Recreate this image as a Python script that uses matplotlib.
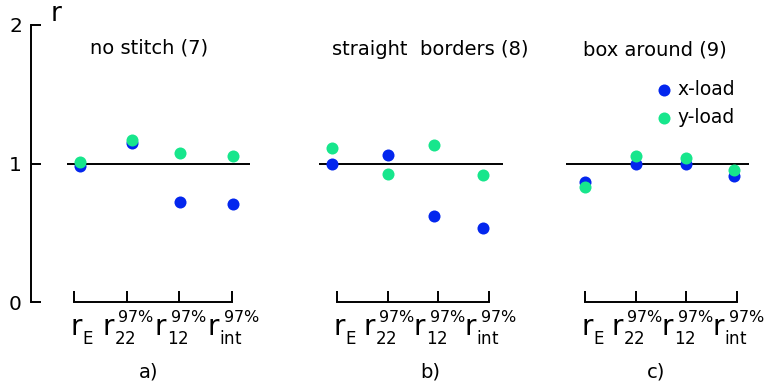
import matplotlib
matplotlib.use("Agg")
import matplotlib.pyplot as plt

# ---------------- data ----------------
panel_titles = ["no stitch (7)", "straight  borders (8)", "box around (9)"]
panel_letters = ["a)", "b)", "c)"]
categories = ["E", "22", "12", "int"]          # subscripts of r
superscripts = ["", "97%", "97%", "97%"]
series_names = ["x-load", "y-load"]

x_load = [
    [0.982, 1.146, 0.720, 0.705],   # a) no stitch
    [0.994, 1.064, 0.621, 0.536],   # b) straight borders
    [0.864, 0.996, 0.996, 0.912],   # c) box around
]
y_load = [
    [1.009, 1.170, 1.074, 1.052],
    [1.112, 0.924, 1.131, 0.919],
    [0.832, 1.052, 1.042, 0.953],
]
y_ticks = [0, 1, 2]
y_tick_labels = ["0", "1", "2"]
reference_value = 1.0

# ---------------- style / layout ----------------
BLUE = "#0326ee"
GREEN = "#17e68c"
W, H = 766, 387
plt.rcParams["font.family"] = ["DejaVu Sans"]
plt.rcParams["mathtext.fontset"] = "dejavusans"

fig = plt.figure(figsize=(W / 100, H / 100), dpi=100)

# pixel layout: (tick0_px, tick3_px, axes_left_px, axes_right_px, ref line from/to px, point shifts)
layout = [
    (74, 232, 31, 262, 67, 250, [0.11, 0.11, 0.02, 0.02]),
    (337, 489, 300, 520, 319, 503, [-0.10, 0.0, -0.08, -0.12]),
    (585, 737, 550, 766, 566, 749, [0.0, 0.0, 0.0, -0.06]),
]
Y0_PX, Y2_PX = 302, 25
LW = 1.4
TXT = 14

def px2fx(px):
    return px / W

def py2fy(py):
    return (H - py) / H

def mt(s):
    return r"$\mathregular{" + s.replace("%", r"\%") + "}$"

axes = []
for k, (t0, t3, l, r, h0, h1, shifts) in enumerate(layout):
    unit = (t3 - t0) / 3.0
    ax = fig.add_axes([px2fx(l), py2fy(Y0_PX), px2fx(r - l), py2fy(Y2_PX) - py2fy(Y0_PX)])
    ax.set_xlim((l - t0) / unit, (r - t0) / unit)
    ax.set_ylim(0, 2)
    ax.patch.set_visible(False)
    for s in ["top", "right"]:
        ax.spines[s].set_visible(False)
    ax.spines["bottom"].set_bounds(0, 3)
    ax.spines["bottom"].set_linewidth(LW)
    ax.set_xticks(range(len(categories)))
    ax.set_xticklabels([])
    ax.tick_params(axis="x", direction="in", length=8, width=LW)
    if k == 0:
        ax.spines["left"].set_bounds(0, 2)
        ax.spines["left"].set_linewidth(LW)
        ax.set_yticks(y_ticks)
        ax.set_yticklabels(y_tick_labels, fontsize=14.5)
        ax.tick_params(axis="y", direction="in", length=7, width=LW, pad=6.5)
        fig.text(px2fx(50), py2fy(21), mt("r"), fontsize=19, ha="left", va="baseline")
    else:
        ax.spines["left"].set_visible(False)
        ax.set_yticks([])

    # reference line
    ax.hlines(reference_value, (h0 - t0) / unit, (h1 - t0) / unit, color="black", lw=LW, zorder=1)

    xs = [i + shifts[i] for i in range(len(categories))]
    ax.scatter(xs, x_load[k], s=75, color=BLUE, zorder=3, linewidths=0, label=series_names[0])
    ax.scatter(xs, y_load[k], s=75, color=GREEN, zorder=4, linewidths=0, label=series_names[1])

    # category labels r_sub^sup
    for i, (sub, sup) in enumerate(zip(categories, superscripts)):
        if sup:
            r_off, sub_off, sup_off = -18.0, -9.2, -6.8
        else:
            r_off, sub_off, sup_off = -3.2, 6.0, 0
        ax.annotate(mt("r"), xy=(i, 0), xytext=(r_off, -23.8), textcoords="offset points",
                    fontsize=20, ha="left", va="baseline", annotation_clip=False)
        ax.annotate(mt(sub), xy=(i, 0), xytext=(sub_off, -30.2), textcoords="offset points",
                    fontsize=12, ha="left", va="baseline", annotation_clip=False)
        if sup:
            ax.annotate(mt(sup), xy=(i, 0), xytext=(sup_off, -14.4), textcoords="offset points",
                        fontsize=11.5, ha="left", va="baseline", annotation_clip=False)
    axes.append(ax)

# titles and panel letters
title_pos = [(149.5, 54), (430, 55), (655, 55)]
letter_pos = [(149, 377), (430, 377), (656, 377)]
for k in range(3):
    fig.text(px2fx(title_pos[k][0]), py2fy(title_pos[k][1]), panel_titles[k],
             fontsize=TXT, ha="center", va="baseline")
    fig.text(px2fx(letter_pos[k][0]), py2fy(letter_pos[k][1]), panel_letters[k],
             fontsize=14, ha="center", va="baseline")

# legend
leg = axes[2].legend(loc="upper left", bbox_to_anchor=(px2fx(656), py2fy(80)),
                     bbox_transform=fig.transFigure, frameon=False, fontsize=13.5,
                     handlelength=0.8, handletextpad=0.35, labelspacing=0.5,
                     borderpad=0, borderaxespad=0, scatterpoints=1)

fig.savefig("out.png", dpi=100)
